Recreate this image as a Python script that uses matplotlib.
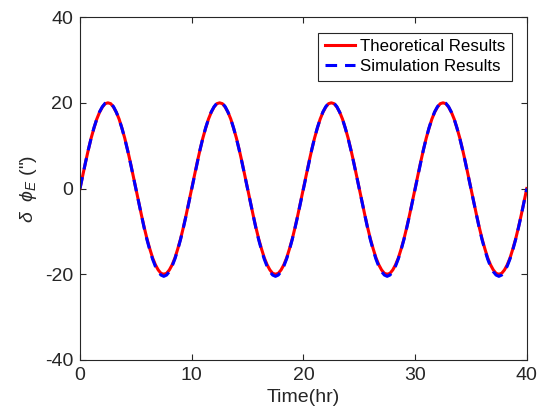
import matplotlib.pyplot as plt

plt.rcParams.update({
    'font.family': ['Liberation Sans', 'DejaVu Sans'],
    'mathtext.fontset': 'custom',
    'mathtext.rm': 'Liberation Sans',
    'mathtext.it': 'Liberation Sans:italic',
    'axes.unicode_minus': False,
})

# time axis (hr), sampled every 0.25 hr
time_hr = [0.25 * k for k in range(161)]

theory = [
    0, 3.1, 6.2, 9.1, 11.8, 14.1, 16.2, 17.8, 19.0, 19.8, 20.0, 19.8, 19.0, 17.8, 16.2, 14.1, 11.8, 9.1, 6.2, 3.1,
    0, -3.1, -6.2, -9.1, -11.8, -14.1, -16.2, -17.8, -19.0, -19.8, -20.0, -19.8, -19.0, -17.8, -16.2, -14.1, -11.8, -9.1, -6.2, -3.1,
    0, 3.1, 6.2, 9.1, 11.8, 14.1, 16.2, 17.8, 19.0, 19.8, 20.0, 19.8, 19.0, 17.8, 16.2, 14.1, 11.8, 9.1, 6.2, 3.1,
    0, -3.1, -6.2, -9.1, -11.8, -14.1, -16.2, -17.8, -19.0, -19.8, -20.0, -19.8, -19.0, -17.8, -16.2, -14.1, -11.8, -9.1, -6.2, -3.1,
    0, 3.1, 6.2, 9.1, 11.8, 14.1, 16.2, 17.8, 19.0, 19.8, 20.0, 19.8, 19.0, 17.8, 16.2, 14.1, 11.8, 9.1, 6.2, 3.1,
    0, -3.1, -6.2, -9.1, -11.8, -14.1, -16.2, -17.8, -19.0, -19.8, -20.0, -19.8, -19.0, -17.8, -16.2, -14.1, -11.8, -9.1, -6.2, -3.1,
    0, 3.1, 6.2, 9.1, 11.8, 14.1, 16.2, 17.8, 19.0, 19.8, 20.0, 19.8, 19.0, 17.8, 16.2, 14.1, 11.8, 9.1, 6.2, 3.1,
    0, -3.1, -6.2, -9.1, -11.8, -14.1, -16.2, -17.8, -19.0, -19.8, -20.0, -19.8, -19.0, -17.8, -16.2, -14.1, -11.8, -9.1, -6.2, -3.1,
    0,
]

simulation = [
    0, 3.1, 6.2, 9.1, 11.8, 14.2, 16.2, 17.9, 19.1, 19.9, 20.1, 19.9, 19.1, 17.8, 16.2, 14.1, 11.7, 9.0, 6.1, 3.0,
    -0.1, -3.2, -6.3, -9.3, -12.0, -14.4, -16.5, -18.2, -19.4, -20.2, -20.5, -20.2, -19.4, -18.1, -16.4, -14.3, -11.9, -9.2, -6.3, -3.2,
    0, 3.1, 6.2, 9.1, 11.8, 14.2, 16.2, 17.9, 19.1, 19.9, 20.1, 19.9, 19.1, 17.8, 16.2, 14.1, 11.7, 9.0, 6.1, 3.0,
    -0.1, -3.2, -6.3, -9.3, -12.0, -14.4, -16.5, -18.2, -19.4, -20.2, -20.5, -20.2, -19.4, -18.1, -16.4, -14.3, -11.9, -9.2, -6.3, -3.2,
    0, 3.1, 6.2, 9.1, 11.8, 14.2, 16.2, 17.9, 19.1, 19.9, 20.1, 19.9, 19.1, 17.8, 16.2, 14.1, 11.7, 9.0, 6.1, 3.0,
    -0.1, -3.2, -6.3, -9.3, -12.0, -14.4, -16.5, -18.2, -19.4, -20.2, -20.5, -20.2, -19.4, -18.1, -16.4, -14.3, -11.9, -9.2, -6.3, -3.2,
    0, 3.1, 6.2, 9.1, 11.8, 14.2, 16.2, 17.9, 19.1, 19.9, 20.1, 19.9, 19.1, 17.8, 16.2, 14.1, 11.7, 9.0, 6.1, 3.0,
    -0.1, -3.2, -6.3, -9.3, -12.0, -14.4, -16.5, -18.2, -19.4, -20.2, -20.5, -20.2, -19.4, -18.1, -16.4, -14.3, -11.9, -9.2, -6.3, -3.2,
    0,
]

x_ticks = [0, 10, 20, 30, 40]
y_ticks = [-40, -20, 0, 20, 40]

gray = '#262626'

fig = plt.figure(figsize=(5.37, 4.18), dpi=100)
ax = fig.add_axes([0.149, 0.139, 0.832, 0.820])

ax.plot(time_hr, theory, color='red', linewidth=2.2, label='Theoretical Results')
ax.plot(time_hr, simulation, color='blue', linewidth=2.2, linestyle=(0, (3.8, 2.6)),
        label='Simulation Results')

ax.set_xlim(0, 40)
ax.set_ylim(-40, 40)
ax.set_xticks(x_ticks)
ax.set_yticks(y_ticks)
ax.tick_params(direction='in', length=4, width=0.8, labelsize=14,
               colors=gray, top=True, right=True, pad=5)
for s in ax.spines.values():
    s.set_color(gray)
    s.set_linewidth(0.8)

ax.set_xlabel('Time(hr)', fontsize=14, color=gray, labelpad=4)
ax.set_ylabel(r'$\delta\ \ \phi_E$ (")', fontsize=14, color=gray, labelpad=4)

leg = ax.legend(loc='upper right', bbox_to_anchor=(0.966, 0.955), fontsize=12.2,
                fancybox=False, framealpha=1, edgecolor=gray, handlelength=1.8,
                handletextpad=0.25, borderpad=0.4, labelspacing=0.3,
                borderaxespad=0)
leg.get_frame().set_linewidth(0.8)

fig.savefig('out.png', dpi=100)
